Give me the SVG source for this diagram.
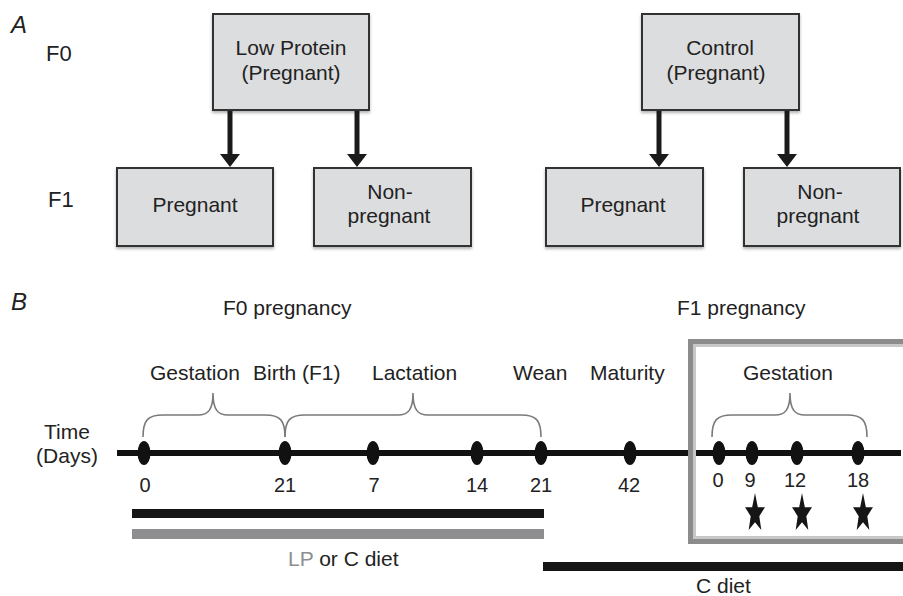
<svg xmlns="http://www.w3.org/2000/svg" width="903" height="596" viewBox="0 0 903 596">
<defs>
<style>
text{font-family:"Liberation Sans",Arial,sans-serif;fill:#222;}
.lbl{font-size:21px;}
.big{font-size:22px;}
.num{font-size:20px;text-anchor:middle;}
.mid{text-anchor:middle;}
.panel{font-size:24px;font-style:italic;}
.box{fill:#dcdddf;stroke:#333;stroke-width:2;filter:url(#sh);}
.arrow{stroke:#1a1a1a;stroke-width:5;fill:none;}
.head{fill:#1a1a1a;}
.brace{fill:none;stroke:#7a7a7a;stroke-width:1.6;}
.dot{fill:#111;}
</style>
<filter id="sh" x="-10%" y="-10%" width="120%" height="130%">
<feDropShadow dx="0" dy="2" stdDeviation="1.8" flood-color="#000" flood-opacity="0.3"/>
</filter>
<path id="star" d="M0,-1 L0.27,-0.30 L0.951,-0.309 L0.41,0.13 L0.60,0.809 L0,0.43 L-0.60,0.809 L-0.41,0.13 L-0.951,-0.309 L-0.27,-0.30 Z" fill="#151515"/>
</defs>
<rect width="903" height="596" fill="#fff"/>

<!-- Panel A -->
<text class="panel" x="11" y="33">A</text>
<text class="big" x="46" y="61">F0</text>
<text class="big" x="48" y="207">F1</text>

<g id="lp">
<rect class="box" x="213" y="14" width="156" height="96"/>
<text class="lbl mid" x="291" y="55">Low Protein</text>
<text class="lbl mid" x="291" y="80">(Pregnant)</text>
</g>
<g id="lp-preg">
<rect class="box" x="117" y="168" width="156" height="78"/>
<text class="lbl mid" x="195" y="212">Pregnant</text>
</g>
<g id="lp-nonpreg">
<rect class="box" x="314" y="168" width="157" height="78"/>
<text class="lbl mid" x="390" y="199">Non-</text>
<text class="lbl mid" x="389" y="223">pregnant</text>
</g>
<g id="ctrl">
<rect class="box" x="642" y="14" width="157" height="96"/>
<text class="lbl mid" x="720" y="55">Control</text>
<text class="lbl mid" x="716" y="80">(Pregnant)</text>
</g>
<g id="ctrl-preg">
<rect class="box" x="546" y="168" width="157" height="78"/>
<text class="lbl mid" x="623" y="212">Pregnant</text>
</g>
<g id="ctrl-nonpreg">
<rect class="box" x="744" y="168" width="156" height="78"/>
<text class="lbl mid" x="820" y="199">Non-</text>
<text class="lbl mid" x="818" y="223">pregnant</text>
</g>

<g id="connectors">
<line class="arrow" x1="230" y1="111" x2="230" y2="156"/>
<path class="head" d="M220,154 L240,154 L230,167 Z"/>
<line class="arrow" x1="357" y1="111" x2="357" y2="156"/>
<path class="head" d="M347,154 L367,154 L357,167 Z"/>
<line class="arrow" x1="659" y1="111" x2="659" y2="156"/>
<path class="head" d="M649,154 L669,154 L659,167 Z"/>
<line class="arrow" x1="787" y1="111" x2="787" y2="156"/>
<path class="head" d="M777,154 L797,154 L787,167 Z"/>
</g>

<!-- Panel B -->
<text class="panel" x="11" y="310">B</text>
<text class="lbl" x="223" y="315">F0 pregnancy</text>
<text class="lbl" x="677" y="315">F1 pregnancy</text>

<text class="lbl" x="150" y="380">Gestation</text>
<text class="lbl" x="253" y="380">Birth (F1)</text>
<text class="lbl" x="372" y="380">Lactation</text>
<text class="lbl" x="513" y="380">Wean</text>
<text class="lbl" x="590" y="380">Maturity</text>
<text class="lbl" x="743" y="380">Gestation</text>

<text class="lbl mid" x="67" y="439">Time</text>
<text class="lbl mid" x="67" y="463">(Days)</text>

<path class="brace" d="M143,437 C143,420 148,415 163,415 L198,415 C208,415 213,410 213,393 C213,410 218,415 228,415 L265,415 C280,415 285,420 285,437"/>
<path class="brace" d="M285,437 C285,420 290,415 305,415 L398,415 C408,415 413,410 413,393 C413,410 418,415 428,415 L521,415 C536,415 541,420 541,437"/>
<path class="brace" d="M712,437 C712,420 717,415 732,415 L775,415 C785,415 790,410 790,393 C790,410 795,415 805,415 L847,415 C862,415 867,420 867,437"/>

<line x1="117" y1="453" x2="901" y2="453" stroke="#111" stroke-width="6"/>
<g class="dot">
<ellipse cx="144" cy="453" rx="6.5" ry="12"/>
<ellipse cx="285" cy="453" rx="6.5" ry="12"/>
<ellipse cx="373" cy="453" rx="6.5" ry="12"/>
<ellipse cx="477" cy="453" rx="6.5" ry="12"/>
<ellipse cx="541" cy="453" rx="6.5" ry="12"/>
<ellipse cx="630" cy="453" rx="6.5" ry="12"/>
<ellipse cx="719" cy="453" rx="6.5" ry="12"/>
<ellipse cx="752" cy="453" rx="6.5" ry="12"/>
<ellipse cx="797" cy="453" rx="6.5" ry="12"/>
<ellipse cx="858" cy="453" rx="6.5" ry="12"/>
</g>

<rect x="692" y="343" width="215" height="197" fill="none" stroke="#8c8c8c" stroke-width="8"/>
<rect x="694.5" y="345.5" width="210" height="192" fill="none" stroke="#c8c8c8" stroke-width="3"/>

<text class="num" x="145" y="492">0</text>
<text class="num" x="285" y="492">21</text>
<text class="num" x="374" y="492">7</text>
<text class="num" x="477" y="492">14</text>
<text class="num" x="541" y="492">21</text>
<text class="num" x="629" y="492">42</text>
<text class="num" x="718" y="487">0</text>
<text class="num" x="750" y="487">9</text>
<text class="num" x="795" y="487">12</text>
<text class="num" x="858" y="487">18</text>

<use href="#star" transform="translate(755,513.5) scale(10.5,20.5)"/>
<use href="#star" transform="translate(802,513.5) scale(10.5,20.5)"/>
<use href="#star" transform="translate(863,513.5) scale(10.5,20.5)"/>

<rect x="132" y="509" width="412" height="9" fill="#151515"/>
<rect x="132" y="529" width="412" height="10" fill="#8e8e90"/>
<text class="lbl" x="288" y="566"><tspan fill="#8e8e90">LP</tspan> or C diet</text>

<rect x="543" y="562" width="360" height="9" fill="#151515"/>
<text class="lbl" x="696" y="593">C diet</text>
</svg>
